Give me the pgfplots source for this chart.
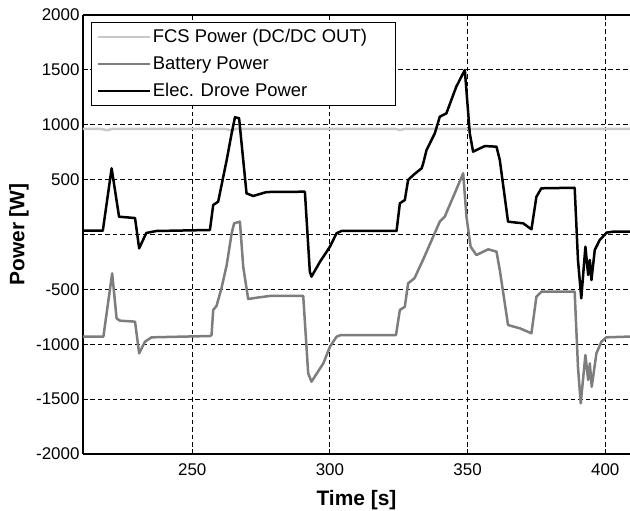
\documentclass[border=0pt]{standalone}
\usepackage{fontspec}
\setmainfont{Liberation Sans}
\usepackage{pgfplots}
\pgfplotsset{compat=1.18}
\definecolor{fcsgray}{RGB}{200,200,200}
\definecolor{batgray}{RGB}{125,125,125}
\begin{document}
\begin{tikzpicture}
\begin{axis}[
 scale only axis, width=547bp, height=439bp,
 xmin=210.3, xmax=409, ymin=-2000, ymax=2000,
 axis x line*=box, axis y line*=left,
 axis line style={-, line width=1.2bp},
 tick align=inside, major tick length=5bp,
 tick style={black, line width=0.9bp},
 xtick={250,300,350,400}, xticklabels={250,300,350,400},
 ytick={-2000,-1500,-1000,-500,0,500,1000,1500,2000},
 yticklabels={-2000,-1500,-1000,-500,,500,1000,1500,2000},
 grid=major, grid style={black, dash pattern=on 4.5bp off 3bp, line width=0.9bp},
 tick label style={font=\fontsize{17}{20}\selectfont},
 xticklabel style={yshift=-6bp},
 xlabel={\textbf{Time [s]}}, ylabel={\textbf{Power [W]}},
 every axis x label/.style={at={(axis description cs:0.5,0)}, anchor=center, yshift=-46bp, font=\fontsize{21}{24}\selectfont},
 every axis y label/.style={at={(axis description cs:-0.117,0.5)}, rotate=90, anchor=center, font=\fontsize{21}{24}\selectfont},
 legend style={at={(axis description cs:0.0146,0.984)}, anchor=north west, draw=black, line width=0.9bp, fill=white,
   font=\fontsize{18.5}{21}\selectfont, row sep=8.5bp, inner xsep=5bp, inner ysep=5bp},
 legend cell align=left,
 legend image code/.code={\draw[#1] (0bp,0bp) -- (52bp,0bp);},
]
\addplot[fcsgray, line width=2.5bp, line join=round] coordinates {
(210.3,962) (217,962) (219,950) (221,962) (262,962) (264,950) (266,962) (324,962) (325.5,952) (327,962) (409,962)
};
\addlegendentry{\makebox[236bp][l]{FCS Power (DC/DC OUT)}}
\addplot[batgray, line width=2.5bp, line join=round] coordinates {
(210.3,-931) (217.7,-931) (220.9,-354) (222.5,-764) (223.7,-785) (229.2,-794) (230.7,-1083) (232.8,-977) (235.2,-937)
(256.4,-925) (257,-916) (257.6,-688) (258.8,-651) (260.6,-490) (262.5,-278) (264.3,11) (265.2,102) (267.3,117)
(268.5,-293) (270.3,-588) (273.3,-576) (278.2,-560) (290.3,-560) (292.1,-1265) (293.3,-1341) (297.6,-1174)
(300,-1022) (302.4,-931) (304,-916) (324,-916) (325.4,-688) (327.2,-658) (328.4,-445) (330.7,-399) (333.8,-232)
(337.5,-20) (339.9,117) (341.7,162) (344.8,344) (348.4,558) (349.6,162) (351.1,-111) (353.2,-187) (357.5,-135)
(360.5,-156) (361.7,-323) (364.7,-825) (369,-855) (373.2,-900) (375,-567) (376.8,-521) (388.9,-521) (390.1,-1205)
(391.1,-1538) (392.8,-1098) (393.8,-1326) (394.4,-1174) (395.1,-1387) (396.8,-1083) (398.6,-977) (400.4,-937) (409,-930)
};
\addlegendentry{Battery Power}
\addplot[black, line width=2.5bp, line join=round] coordinates {
(210.3,35) (217.5,35) (220.7,603) (223.4,162) (229.2,150) (230.7,-126) (233.3,14) (237,32) (256.4,41) (257.6,269)
(259.4,299) (262.5,679) (264.3,922) (265.5,1068) (267,1059) (269.7,375) (272.1,351) (277,387) (290.9,390) (292.7,-340)
(293.3,-384) (296.4,-248) (300,-111) (302.4,11) (304.2,32) (324.2,32) (325.4,284) (327.2,314) (328.4,497) (330.3,542)
(333.3,603) (333.9,649) (335.1,770) (338.1,922) (339.9,1073) (342.3,1104) (345.9,1347) (349,1499) (350.8,922) (352,755)
(354.5,785) (356.3,806) (360.5,800) (361.7,679) (364.7,117) (367.8,108) (370.2,102) (373.2,47) (375,344) (376.8,421)
(388.9,426) (390.1,-232) (391.3,-581) (392.8,-111) (393.8,-369) (394.4,-232) (395,-415) (396.2,-141) (398,-50)
(400.5,17) (402.9,26) (409,26)
};
\addlegendentry{Elec. Drove Power}
\coordinate (SW) at (rel axis cs:0,0);
\coordinate (NE) at (rel axis cs:1,1);
\end{axis}
\pgfresetboundingbox
\path[use as bounding box] ([xshift=-83bp,yshift=-57bp]SW) rectangle ([yshift=15bp]NE);
\end{tikzpicture}
\end{document}
